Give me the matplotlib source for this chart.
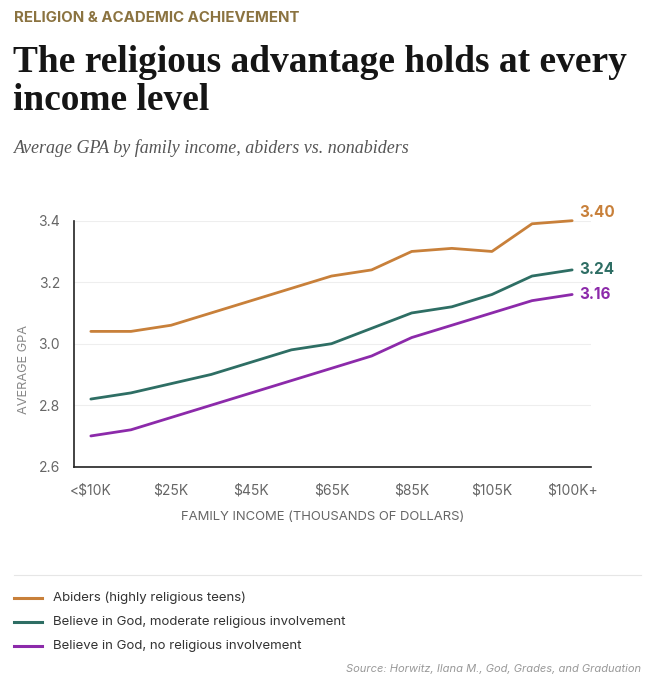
import matplotlib
matplotlib.use("Agg")
import matplotlib.pyplot as plt
from matplotlib.lines import Line2D

# income brackets (every other point carries a tick label)
income_labels = ["<$10K", "", "$25K", "", "$45K", "", "$65K", "", "$85K", "", "$105K", "", "$100K+"]
abiders = [3.04, 3.04, 3.06, 3.10, 3.14, 3.18, 3.22, 3.24, 3.30, 3.31, 3.30, 3.39, 3.40]
moderate = [2.82, 2.84, 2.87, 2.90, 2.94, 2.98, 3.00, 3.05, 3.10, 3.12, 3.16, 3.22, 3.24]
no_involvement = [2.70, 2.72, 2.76, 2.80, 2.84, 2.88, 2.92, 2.96, 3.02, 3.06, 3.10, 3.14, 3.16]
series_names = ["Abiders (highly religious teens)",
                "Believe in God, moderate religious involvement",
                "Believe in God, no religious involvement"]
y_ticks = [2.6, 2.8, 3.0, 3.2, 3.4]

ORANGE = "#C8803A"
TEAL = "#2E6E64"
PURPLE = "#8C2AAA"
SANS = ["Inter", "DejaVu Sans"]
SERIF = ["Liberation Serif", "DejaVu Serif"]

W, H = 653, 680
fig = plt.figure(figsize=(W / 100, H / 100), dpi=100)
fig.patch.set_facecolor("white")


def fx(x):
    return x / W


def fy(y):
    return 1 - y / H


# axes placement in pixel terms
left, right, top, bottom = 74, 591, 220.7, 466.7
ax = fig.add_axes([fx(left), fy(bottom), (right - left) / W, (bottom - top) / H])

xs = list(range(len(abiders)))
series = [(abiders, ORANGE), (moderate, TEAL), (no_involvement, PURPLE)]
label_offsets = [6, 0, 0]
for (vals, col), off in zip(series, label_offsets):
    ax.plot(xs, vals, color=col, lw=2.0, solid_capstyle="round", clip_on=False, zorder=3)
    ax.annotate(f"{vals[-1]:.2f}", xy=(xs[-1], vals[-1]), xytext=(5, off),
                textcoords="offset points", va="center", ha="left",
                color=col, fontsize=11, fontweight="bold", family=SANS,
                annotation_clip=False)

ax.set_xlim(-0.42, 12.47)
ax.set_ylim(2.6, 3.4)
ax.set_yticks(y_ticks)
ax.set_yticklabels([f"{t:.1f}" for t in y_ticks])
ax.set_xticks(xs[::2])
ax.set_xticklabels(income_labels[::2])
ax.tick_params(axis="both", length=0, colors="#666666", labelsize=10)
ax.tick_params(axis="x", pad=12)
ax.tick_params(axis="y", pad=10)
for lab in ax.get_xticklabels() + ax.get_yticklabels():
    lab.set_family(SANS)
ax.grid(axis="y", color="#EEEEEE", lw=0.8)
ax.set_axisbelow(True)
for side in ["top", "right"]:
    ax.spines[side].set_visible(False)
for side in ["left", "bottom"]:
    ax.spines[side].set_color("#222222")
    ax.spines[side].set_linewidth(1.2)

# header texts
fig.text(fx(14), fy(18), "RELIGION & ACADEMIC ACHIEVEMENT", color="#8B7340",
         fontsize=10.8, fontweight="bold", family=SANS, va="center", ha="left")
fig.text(fx(13), fy(62), "The religious advantage holds at every", color="#151515",
         fontsize=26.9, fontweight="bold", family=SERIF, va="center", ha="left")
fig.text(fx(13), fy(101), "income level", color="#151515",
         fontsize=26.9, fontweight="bold", family=SERIF, va="center", ha="left")
fig.text(fx(14), fy(148), "Average GPA by family income, abiders vs. nonabiders", color="#555555",
         fontsize=13, style="italic", family=SERIF, va="center", ha="left")

# axis titles
fig.text(fx(24), fy(370), "AVERAGE GPA", rotation=90, color="#888888",
         fontsize=9.2, family=SANS, va="center", ha="center")
fig.text(fx(323), fy(517), "FAMILY INCOME (THOUSANDS OF DOLLARS)", color="#666666",
         fontsize=9.4, family=SANS, va="center", ha="center")

# separator and legend
fig.add_artist(Line2D([fx(14), fx(641)], [fy(575), fy(575)], color="#E6E6E6", lw=0.8))
for i, (name, col) in enumerate(zip(series_names, [ORANGE, TEAL, PURPLE])):
    yy = 598 + i * 24
    fig.add_artist(Line2D([fx(14), fx(42)], [fy(yy), fy(yy)], color=col, lw=2.2))
    fig.text(fx(53), fy(yy), name, color="#333333", fontsize=9.5, family=SANS,
             va="center", ha="left")

fig.text(fx(641), fy(669), "Source: Horwitz, Ilana M., God, Grades, and Graduation",
         color="#999999", fontsize=8, style="italic", family=SANS, va="center", ha="right")

fig.savefig("out.png", dpi=100, facecolor="white")
